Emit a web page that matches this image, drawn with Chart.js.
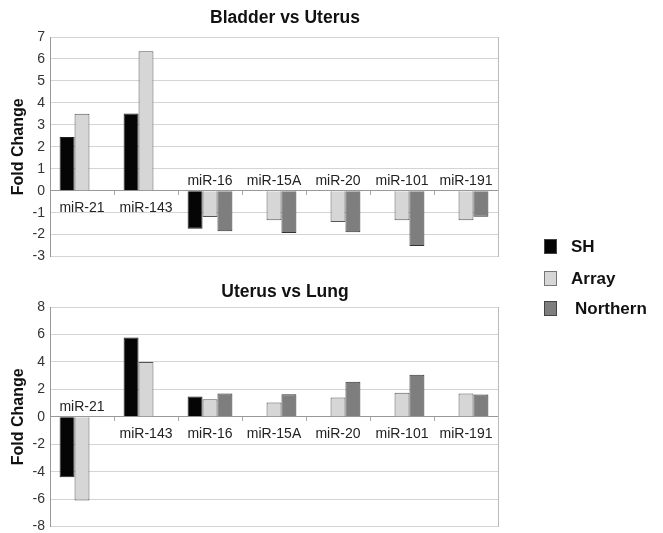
<!DOCTYPE html>
<html>
<head>
<meta charset="utf-8">
<script src="https://cdn.jsdelivr.net/npm/chart.js@4.4.0/dist/chart.umd.min.js"></script>
<style>
  body { margin: 0; background: #fff; overflow: hidden; }
  #wrap { position: relative; width: 663px; height: 533px; }
  canvas { position: absolute; left: 0; }
  #c1 { top: 0; }
  #c2 { top: 270px; }
  .leg { position: absolute; left: 544px; font: bold 17px "Liberation Sans", Arial, sans-serif; color: #111; }
  .leg i { position: absolute; left: 0; width: 13px; height: 15px; box-sizing: border-box; border: 1px solid #444; }
  .leg span { position: absolute; white-space: nowrap; line-height: 18px; top: -1px; }
</style>
</head>
<body>
<div id="wrap">
  <canvas id="c1" width="570" height="270"></canvas>
  <canvas id="c2" width="570" height="270"></canvas>
  <div class="leg" style="top:239px"><i style="background:#050505"></i><span style="left:27px">SH</span></div>
  <div class="leg" style="top:271px"><i style="background:#d6d6d6;border-color:#777"></i><span style="left:27px">Array</span></div>
  <div class="leg" style="top:301px"><i style="background:#7e7e7e"></i><span style="left:31px">Northern</span></div>
</div>
<script>
const mirnas = ['miR-21', 'miR-143', 'miR-16', 'miR-15A', 'miR-20', 'miR-101', 'miR-191'];

// Bladder vs Uterus
const bladderSH = [2.45, 3.52, -1.73, null, null, null, null];
const bladderArray = [3.5, 6.35, -1.2, -1.34, -1.43, -1.34, -1.34];
const bladderNorthern = [null, null, -1.84, -1.93, -1.89, -2.52, -1.19];

// Uterus vs Lung
const lungSH = [-4.4, 5.77, 1.47, null, null, null, null];
const lungArray = [-6.1, 4.0, 1.28, 1.04, 1.4, 1.76, 1.69];
const lungNorthern = [null, null, 1.69, 1.64, 2.56, 3.07, 1.62];

const FONT = '"Liberation Sans", Arial, sans-serif';

// category names sit just above or below the zero line, away from the bars
const catLabels = {
  id: 'catLabels',
  afterDatasetsDraw(chart) {
    const ctx = chart.ctx;
    const x = chart.scales.x, y = chart.scales.y;
    const y0 = y.getPixelForValue(0);
    ctx.save();
    ctx.font = '14px ' + FONT;
    ctx.fillStyle = '#222';
    ctx.textAlign = 'center';
    ctx.textBaseline = 'middle';
    chart.data.labels.forEach((lab, i) => {
      const vals = chart.data.datasets.map(d => d.data[i]).filter(v => v != null);
      const above = vals.every(v => v < 0);
      ctx.fillText(lab, x.getPixelForValue(i), above ? y0 - 10 : y0 + 17);
    });
    ctx.restore();
  }
};

function makeChart(id, title, sh, arr, north, min, max, step, tPad, bPad) {
  return new Chart(document.getElementById(id), {
    type: 'bar',
    data: {
      labels: mirnas,
      datasets: [
        { label: 'SH', data: sh, backgroundColor: '#050505', borderColor: '#222', borderWidth: 1 },
        { label: 'Array', data: arr, backgroundColor: '#d6d6d6', borderColor: '#555', borderWidth: 1 },
        { label: 'Northern', data: north, backgroundColor: '#7e7e7e', borderColor: '#333', borderWidth: 1 }
      ]
    },
    options: {
      responsive: false,
      animation: false,
      devicePixelRatio: 1,
      categoryPercentage: 0.7,
      barPercentage: 1,
      layout: { padding: { left: 0, right: 0, top: 0, bottom: bPad } },
      plugins: {
        legend: { display: false },
        tooltip: { enabled: false },
        title: {
          display: true,
          text: title,
          color: '#111',
          font: { family: FONT, size: 17.5, weight: 'bold' },
          padding: tPad
        }
      },
      scales: {
        x: {
          position: { y: 0 },
          offset: true,
          grid: { offset: true, drawOnChartArea: false, drawTicks: true, tickLength: 4, color: '#aaa' },
          border: { display: true, color: '#999' },
          ticks: { display: false }
        },
        y: {
          min: min,
          max: max,
          afterFit(scale) { scale.width = 50; },
          ticks: { stepSize: step, color: '#333', padding: 5, font: { family: FONT, size: 14 } },
          grid: { color: '#d4d4d4', drawTicks: false },
          border: { display: true, color: '#999' },
          title: {
            display: true,
            text: 'Fold Change',
            color: '#111',
            font: { family: FONT, size: 16, weight: 'bold' },
            padding: { top: 9, bottom: 0 }
          }
        },
        // right frame line; its width keeps the plot clear of the legend
        y2: {
          position: 'right',
          afterFit(scale) { scale.width = 72; },
          ticks: { display: false },
          grid: { drawOnChartArea: false, drawTicks: false },
          border: { display: true, color: '#bbb' }
        }
      }
    },
    plugins: [catLabels]
  });
}

makeChart('c1', 'Bladder vs Uterus', bladderSH, bladderArray, bladderNorthern, -3, 7, 1, { top: 8, bottom: 8 }, 12);
makeChart('c2', 'Uterus vs Lung', lungSH, lungArray, lungNorthern, -8, 8, 2, { top: 11.5, bottom: 4.5 }, 11);
</script>
</body>
</html>
